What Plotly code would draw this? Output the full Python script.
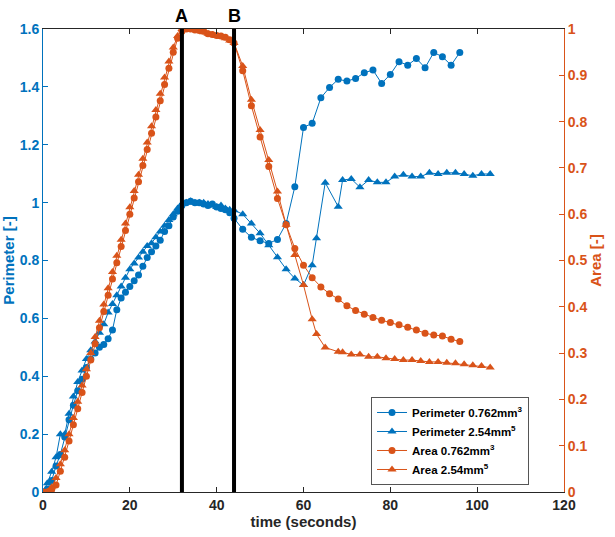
import plotly.graph_objects as go

# ---------------- data ----------------
# time stamps (seconds)
t_small = list(range(0, 45)) + list(range(46, 97, 2))
t_large = list(range(0, 45)) + [46, 48, 50, 52, 54, 56, 58, 60, 62, 63, 65, 68, 69,
                                 71, 73, 75, 77, 79, 81, 83, 85, 87, 89, 91, 93, 95,
                                 97, 99, 101, 103]

perim_small = [0.0, 0.01, 0.04, 0.09, 0.13, 0.19, 0.25, 0.30, 0.35, 0.39,
               0.43, 0.46, 0.48, 0.50, 0.51, 0.53, 0.56, 0.63, 0.67, 0.69,
               0.71, 0.73, 0.75, 0.78, 0.81, 0.83, 0.85, 0.87, 0.90, 0.92,
               0.95, 0.97, 0.99, 1.0, 1.005, 1.0, 1.0, 0.995, 0.99, 0.995,
               0.985, 0.98, 0.975, 0.965, 0.946,
               0.908, 0.880, 0.868, 0.859, 0.873, 0.928, 1.055, 1.26, 1.274, 1.362,
               1.398, 1.426, 1.42, 1.429, 1.449, 1.458, 1.412, 1.443, 1.487, 1.475,
               1.498, 1.466, 1.519, 1.504, 1.475, 1.519]

perim_large = [0.0, 0.03, 0.07, 0.12, 0.2, 0.2, 0.27, 0.33, 0.38, 0.42,
               0.46, 0.49, 0.52, 0.55, 0.58, 0.62, 0.65, 0.68, 0.71, 0.74,
               0.77, 0.79, 0.81, 0.83, 0.85, 0.86, 0.88, 0.90, 0.92, 0.94,
               0.96, 0.98, 0.995, 1.0, 1.005, 1.0, 1.0, 1.0, 0.995, 0.99,
               0.985, 0.99, 0.98, 0.975, 0.974,
               0.96, 0.928, 0.894, 0.853, 0.811, 0.770, 0.738, 0.715, 0.784, 0.877,
               1.069, 0.986, 1.078, 1.082, 1.053, 1.078, 1.070, 1.070, 1.090, 1.096,
               1.090, 1.090, 1.103, 1.099, 1.103, 1.103, 1.099, 1.093, 1.099, 1.099]

area_small = [0.0, 0.0, 0.005, 0.015, 0.045, 0.075, 0.11, 0.145, 0.18, 0.215,
              0.25, 0.285, 0.32, 0.355, 0.39, 0.425, 0.46, 0.495, 0.53, 0.565,
              0.60, 0.635, 0.67, 0.705, 0.74, 0.775, 0.81, 0.845, 0.88, 0.915,
              0.95, 0.98, 0.995, 1.0, 1.0, 0.998, 0.997, 0.995, 0.99, 0.988,
              0.986, 0.985, 0.982, 0.977, 0.97,
              0.91, 0.834, 0.767, 0.703, 0.634, 0.577, 0.526, 0.490, 0.463, 0.443,
              0.428, 0.417, 0.402, 0.392, 0.384, 0.377, 0.371, 0.366, 0.361, 0.356,
              0.350, 0.343, 0.339, 0.337, 0.330, 0.325]

area_large = [0.0, 0.0, 0.01, 0.03, 0.06, 0.09, 0.125, 0.16, 0.195, 0.23,
              0.265, 0.30, 0.335, 0.37, 0.405, 0.44, 0.475, 0.51, 0.545, 0.58,
              0.615, 0.65, 0.685, 0.72, 0.755, 0.79, 0.825, 0.86, 0.895, 0.93,
              0.96, 0.985, 1.0, 1.0, 0.999, 0.998, 0.996, 0.993, 0.99, 0.987,
              0.985, 0.983, 0.98, 0.975, 0.97,
              0.92, 0.847, 0.782, 0.717, 0.649, 0.577, 0.512, 0.447, 0.373, 0.341,
              0.312, 0.303, 0.302, 0.297, 0.297, 0.292, 0.292, 0.289, 0.287, 0.285,
              0.285, 0.283, 0.281, 0.281, 0.279, 0.278, 0.276, 0.274, 0.272, 0.269]

event_times = [32, 44]
event_labels = ["A", "B"]

x_ticks = [0, 20, 40, 60, 80, 100, 120]

# ---------------- style ----------------
BLUE = "#0072BD"
ORANGE = "#D95319"
DARK = "#262626"
FONT = "Liberation Sans"

fig = go.Figure()

fig.add_trace(go.Scatter(x=t_small, y=perim_small, mode="lines+markers",
                         name="Perimeter 0.762mm<sup>3</sup>",
                         line=dict(color=BLUE, width=1),
                         marker=dict(symbol="circle", size=7, color=BLUE),
                         yaxis="y"))
fig.add_trace(go.Scatter(x=t_large, y=perim_large, mode="lines+markers",
                         name="Perimeter 2.54mm<sup>5</sup>",
                         line=dict(color=BLUE, width=1),
                         marker=dict(symbol="triangle-up", size=8, color=BLUE),
                         yaxis="y"))
fig.add_trace(go.Scatter(x=t_small, y=area_small, mode="lines+markers",
                         name="Area 0.762mm<sup>3</sup>",
                         line=dict(color=ORANGE, width=1),
                         marker=dict(symbol="circle", size=7, color=ORANGE),
                         yaxis="y2"))
fig.add_trace(go.Scatter(x=t_large, y=area_large, mode="lines+markers",
                         name="Area 2.54mm<sup>5</sup>",
                         line=dict(color=ORANGE, width=1),
                         marker=dict(symbol="triangle-up", size=8, color=ORANGE),
                         yaxis="y2"))

for t, lab in zip(event_times, event_labels):
    fig.add_shape(type="line", xref="x", yref="paper", x0=t, x1=t, y0=0, y1=1,
                  line=dict(color="black", width=4), layer="above")
    fig.add_annotation(x=t, y=1, xref="x", yref="paper", text=lab, showarrow=False,
                       yanchor="bottom", yshift=1,
                       font=dict(family=FONT, size=18, color="black", weight="bold"))

fig.update_layout(
    width=615, height=537,
    margin=dict(l=43, r=51, t=29, b=45),
    plot_bgcolor="white", paper_bgcolor="white",
    showlegend=True,
    legend=dict(x=0.6296, y=0.2052, xanchor="left", yanchor="top",
                bgcolor="white", bordercolor="#555555", borderwidth=1,
                font=dict(family=FONT, size=11.5, color="black", weight="bold"),
                itemwidth=30, tracegroupgap=0),
    xaxis=dict(range=[0, 120], tickvals=x_ticks, ticks="inside", ticklen=5,
               tickcolor=DARK, showline=True, linecolor=DARK, linewidth=1,
               mirror="ticks", showgrid=False, zeroline=False, automargin=False,
               tickfont=dict(family=FONT, size=14, color=DARK, weight="bold"),
               title=dict(text="time (seconds)", standoff=0,
                          font=dict(family=FONT, size=15, color=DARK, weight="bold"))),
    yaxis=dict(range=[0, 1.6], dtick=0.2, ticks="inside", ticklen=5,
               tickcolor=BLUE, showline=True, linecolor=BLUE, linewidth=1,
               showgrid=False, zeroline=False, automargin=False,
               tickfont=dict(family=FONT, size=14, color=BLUE, weight="bold"),
               title=dict(text="Perimeter [-]",
                          font=dict(family=FONT, size=15, color=BLUE, weight="bold"))),
    yaxis2=dict(range=[0, 1], dtick=0.1, overlaying="y", side="right",
                ticks="inside", ticklen=5, tickcolor=ORANGE, showline=True,
                linecolor=ORANGE, linewidth=1, showgrid=False, zeroline=False,
                automargin=False,
                tickfont=dict(family=FONT, size=14, color=ORANGE, weight="bold"),
                title=dict(text="Area [-]", standoff=2,
                           font=dict(family=FONT, size=15, color=ORANGE, weight="bold"))),
)

fig.write_html("out.html")
